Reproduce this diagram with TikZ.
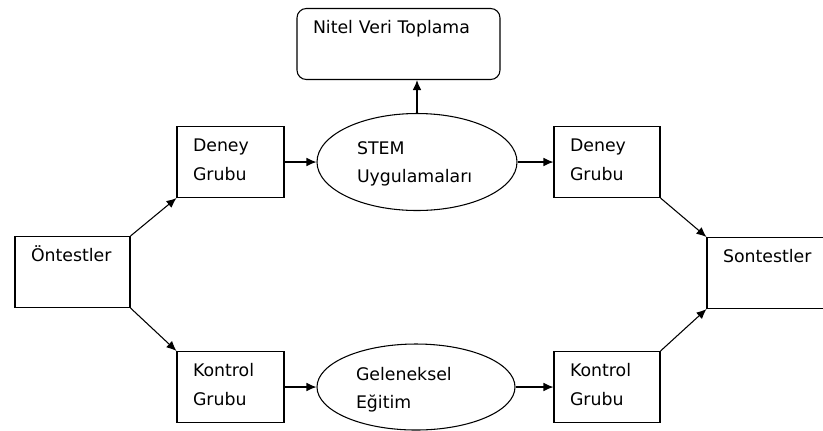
\documentclass[tikz,border=0pt]{standalone}
\usepackage{fontspec}
\setmainfont{DejaVu Sans}
\usepackage{tikz}
\usetikzlibrary{shapes.geometric, arrows.meta}

\tikzset{
  grp/.style={draw, rectangle, align=left, inner xsep=12pt, inner ysep=0pt,
    text height=18.75pt, text depth=34.5pt, font=\fontsize{13}{21.5}\selectfont},
  act/.style={draw, ellipse, align=left, inner sep=0pt, text width=90pt,
    font=\fontsize{13}{21.5}\selectfont},
  flow/.style={-{Latex[length=7.5pt, width=6.5pt]}, line width=0.8pt}
}

\begin{document}
\begin{tikzpicture}[x=0.75pt, y=-0.75pt, line width=0.8pt]
\useasboundingbox (0,0) rectangle (823,430);
\clip (0,0) rectangle (823,430);

% top box
\node[grp, rounded corners=7pt, text width=128.25pt] (nitel) at (398.5,44) {Nitel Veri Toplama};

% left and right ends
\node[grp, text width=62.25pt] (ontest) at (72.5,272) {Öntestler};
\node[grp, text width=81pt] (sontest) at (777,273) {Sontestler};

% upper row
\node[grp, text width=56.25pt] (deneyA) at (230.5,162) {Deney\\Grubu};
\node[act, minimum width=150pt, minimum height=72.75pt,
  text height=12pt, text depth=24pt] (stem) at (417,162) {STEM\\Uygulamaları};
\node[grp, text width=55.5pt] (deneyB) at (607,162) {Deney\\Grubu};

% lower row
\node[grp, text width=56.25pt] (kontrolA) at (230.5,387) {Kontrol\\Grubu};
\node[act, minimum width=148.5pt, minimum height=64.5pt,
  text height=12pt, text depth=22.5pt] (gelenek) at (416,387) {Geleneksel\\Eğitim};
\node[grp, text width=55.5pt] (kontrolB) at (607,387) {Kontrol\\Grubu};

\draw[flow] (stem.north) -- (stem.north |- nitel.south);
\draw[flow] (ontest.north east) -- (deneyA.south west);
\draw[flow] (ontest.south east) -- (kontrolA.north west);
\draw[flow] (deneyA.east) -- (stem.west);
\draw[flow] (stem.east) -- (deneyB.west);
\draw[flow] (kontrolA.east) -- (gelenek.west);
\draw[flow] (gelenek.east) -- (kontrolB.west);
\draw[flow] (deneyB.south east) -- (sontest.north west);
\draw[flow] (kontrolB.north east) -- (sontest.south west);

\end{tikzpicture}
\end{document}
